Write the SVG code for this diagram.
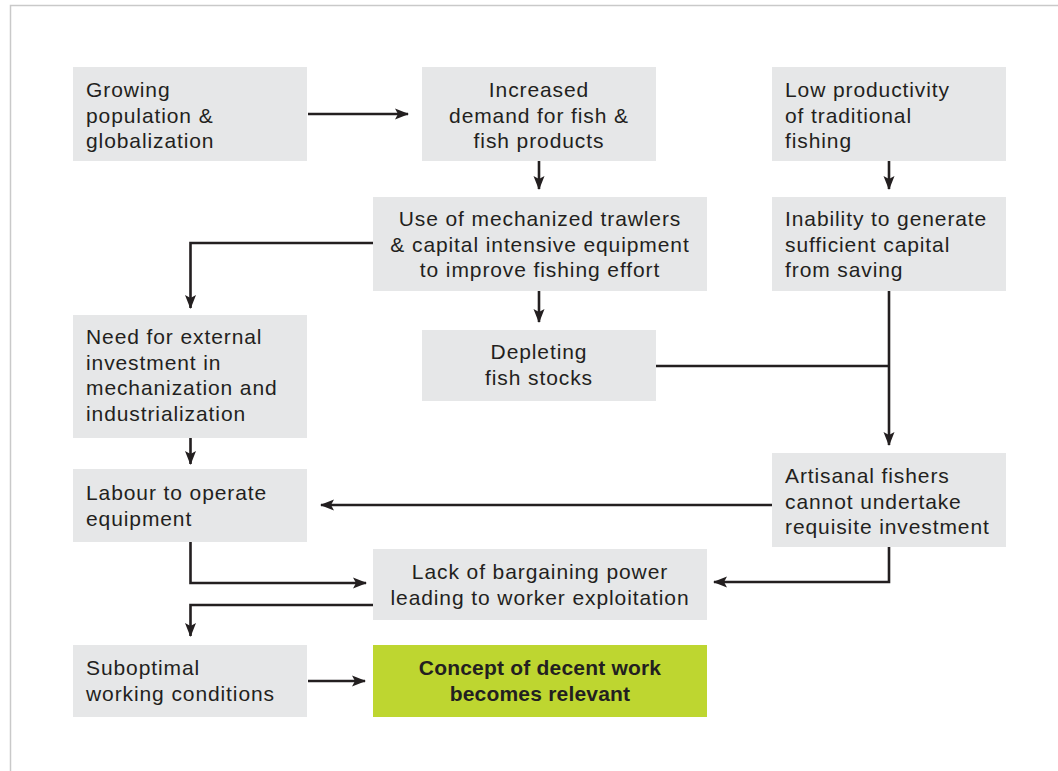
<svg xmlns="http://www.w3.org/2000/svg" width="1058" height="771" viewBox="0 0 1058 771">
<defs>
<style>
.box{fill:#E6E7E8}
.hl{fill:#BED630}
.t{font-family:"Liberation Sans",Arial,sans-serif;font-size:21px;fill:#231F20;letter-spacing:0.9px}
.b{font-family:"Liberation Sans",Arial,sans-serif;font-size:21px;font-weight:bold;fill:#231F20;letter-spacing:0.2px}
.c{text-anchor:middle}
.ln{fill:none;stroke:#231F20;stroke-width:2.6}
.frame{fill:none;stroke:#C9C9C9;stroke-width:1.5}
</style>
<marker id="ah" markerUnits="userSpaceOnUse" markerWidth="14" markerHeight="12" refX="13" refY="6" orient="auto">
<path d="M0,0.5 L14,6 L0,11.5 L3,6 z" fill="#231F20"/>
</marker>
</defs>
<rect width="1058" height="771" fill="#FFFFFF"/>
<path class="frame" d="M1058,5.5 H10.5 V771"/>

<g id="n1"><rect class="box" x="73" y="67" width="234" height="94"/>
<text class="t" x="86" y="97">Growing</text><text class="t" x="86" y="122.5">population &amp;</text><text class="t" x="86" y="148">globalization</text></g>

<g id="n2"><rect class="box" x="422" y="67" width="234" height="94"/>
<text class="t c" x="539" y="97">Increased</text><text class="t c" x="539" y="122.5">demand for fish &amp;</text><text class="t c" x="539" y="148">fish products</text></g>

<g id="n3"><rect class="box" x="772" y="67" width="234" height="94"/>
<text class="t" x="785" y="97">Low productivity</text><text class="t" x="785" y="122.5">of traditional</text><text class="t" x="785" y="148">fishing</text></g>

<g id="n4"><rect class="box" x="373" y="197" width="334" height="94"/>
<text class="t c" x="540" y="226">Use of mechanized trawlers</text><text class="t c" x="540" y="251.5">&amp; capital intensive equipment</text><text class="t c" x="540" y="277">to improve fishing effort</text></g>

<g id="n5"><rect class="box" x="772" y="197" width="234" height="94"/>
<text class="t" x="785" y="226">Inability to generate</text><text class="t" x="785" y="251.5">sufficient capital</text><text class="t" x="785" y="277">from saving</text></g>

<g id="n6"><rect class="box" x="73" y="315" width="234" height="123"/>
<text class="t" x="86" y="344">Need for external</text><text class="t" x="86" y="369.5">investment in</text><text class="t" x="86" y="395">mechanization and</text><text class="t" x="86" y="420.5">industrialization</text></g>

<g id="n7"><rect class="box" x="422" y="330" width="234" height="71"/>
<text class="t c" x="539" y="359">Depleting</text><text class="t c" x="539" y="384.5">fish stocks</text></g>

<g id="n8"><rect class="box" x="73" y="469" width="234" height="73"/>
<text class="t" x="86" y="500">Labour to operate</text><text class="t" x="86" y="525.5">equipment</text></g>

<g id="n9"><rect class="box" x="772" y="453" width="234" height="94"/>
<text class="t" x="785" y="483">Artisanal fishers</text><text class="t" x="785" y="508.5">cannot undertake</text><text class="t" x="785" y="534">requisite investment</text></g>

<g id="n10"><rect class="box" x="373" y="549" width="334" height="71"/>
<text class="t c" x="540" y="579">Lack of bargaining power</text><text class="t c" x="540" y="604.5">leading to worker exploitation</text></g>

<g id="n11"><rect class="box" x="73" y="645" width="234" height="72"/>
<text class="t" x="86" y="675">Suboptimal</text><text class="t" x="86" y="700.5">working conditions</text></g>

<g id="n12"><rect class="hl" x="373" y="645" width="334" height="72"/>
<text class="b c" x="540" y="675">Concept of decent work</text><text class="b c" x="540" y="700.5">becomes relevant</text></g>

<g id="connectors">
<path class="ln" marker-end="url(#ah)" d="M308,114 H408"/>
<path class="ln" marker-end="url(#ah)" d="M539,161 V189"/>
<path class="ln" marker-end="url(#ah)" d="M889,161 V189"/>
<path class="ln" marker-end="url(#ah)" d="M373,243 H190.5 V308"/>
<path class="ln" marker-end="url(#ah)" d="M539,291 V322"/>
<path class="ln" marker-end="url(#ah)" d="M889,291 V445"/>
<path class="ln" d="M656,366 H889"/>
<path class="ln" marker-end="url(#ah)" d="M190.5,438 V464"/>
<path class="ln" marker-end="url(#ah)" d="M772,505 H321"/>
<path class="ln" marker-end="url(#ah)" d="M190.5,542 V583 H366"/>
<path class="ln" marker-end="url(#ah)" d="M889,547 V582 H714"/>
<path class="ln" marker-end="url(#ah)" d="M373,605 H190.5 V636"/>
<path class="ln" marker-end="url(#ah)" d="M308,681 H365"/>
</g>
</svg>
